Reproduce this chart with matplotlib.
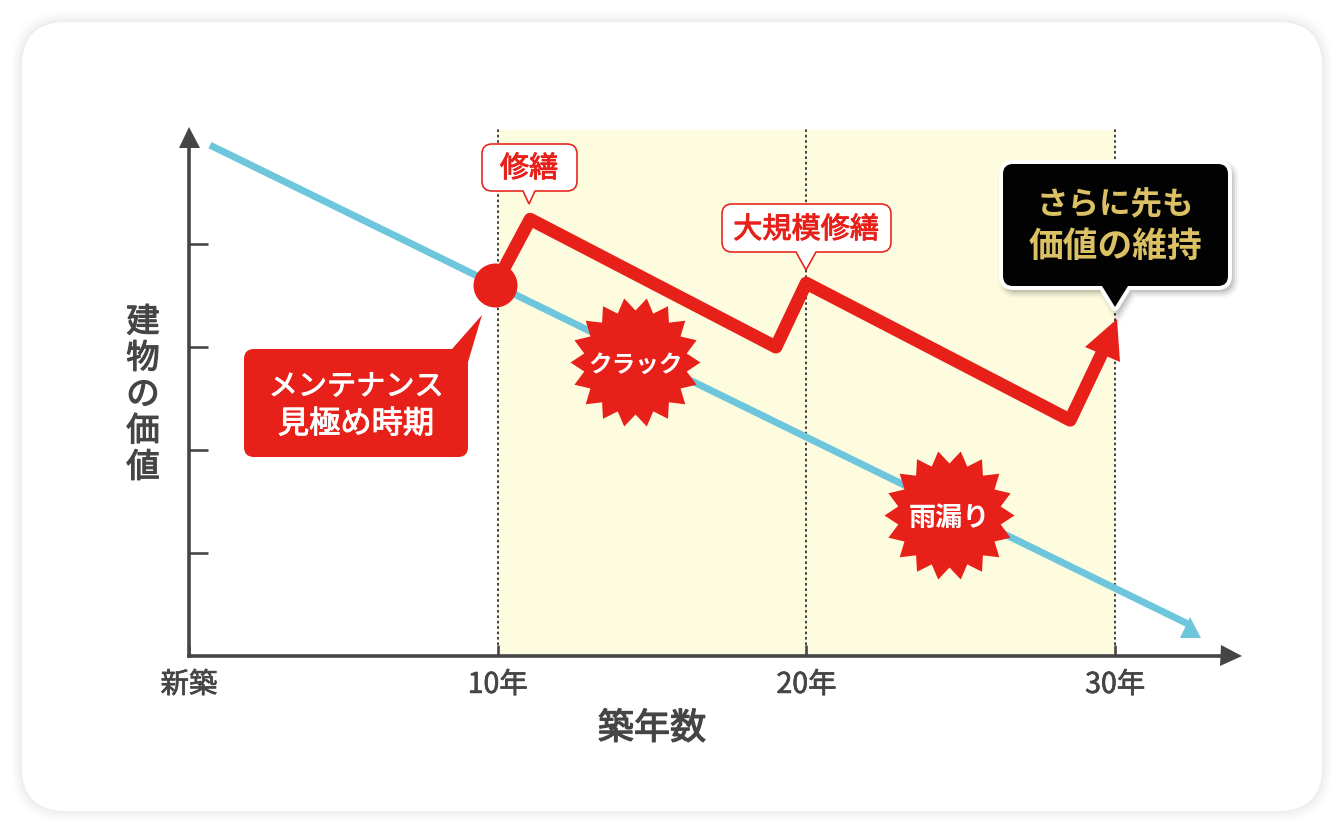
import matplotlib
matplotlib.use("Agg")
import matplotlib.pyplot as plt
import matplotlib.patheffects as pe
from matplotlib.markers import MarkerStyle
from matplotlib.patches import PathPatch
from matplotlib.path import Path
from matplotlib.transforms import Affine2D

plt.rcParams['font.family'] = ['Noto Sans CJK JP', 'DejaVu Sans']

# data (years, relative value)
year_ticks = [0, 10, 20, 30]
year_labels = ['新築', '10年', '20年', '30年']
value_ticks = [1, 2, 3, 4]
band_years = [10, 30]

plain_x = [0.68, 32.43]
plain_y = [4.96, 0.30]

kept_x = [9.91, 11.05, 19.01, 19.99, 28.54, 29.57]
kept_y = [3.60, 4.24, 3.00, 3.62, 2.29, 2.94]

event_x = [14.45, 24.62]
event_y = [2.85, 1.37]
event_labels = ['クラック', '雨漏り']
event_sizes = [17, 19.5]

RED = '#E7201A'
BLUE = '#6EC6DD'
DARK = '#444547'
BAND = '#FEFCDF'
GOLD = '#DBC064'

W, H = 1344, 833
PX = 0.72  # points per pixel at dpi 100

fig = plt.figure(figsize=(W / 100, H / 100), dpi=100, facecolor='white')
px = Affine2D().scale(1, -1).translate(0, H)  # reference pixel coords


def rounded(points, radii):
    # closed path through points, corners rounded by radii
    n = len(points)
    verts, codes = [], []
    for i in range(n):
        x, y = points[i]
        r = radii[i]
        if r == 0:
            verts.append((x, y))
            codes.append(Path.LINETO)
            continue
        xa, ya = points[i - 1]
        xb, yb = points[(i + 1) % n]
        la = ((xa - x) ** 2 + (ya - y) ** 2) ** 0.5
        lb = ((xb - x) ** 2 + (yb - y) ** 2) ** 0.5
        verts += [(x + (xa - x) * r / la, y + (ya - y) * r / la), (x, y),
                  (x + (xb - x) * r / lb, y + (yb - y) * r / lb)]
        codes += [Path.LINETO, Path.CURVE3, Path.CURVE3]
    codes[0] = Path.MOVETO
    verts.append(verts[0])
    codes.append(Path.CLOSEPOLY)
    return Path(verts, codes)


def box_path(x0, y0, x1, y1, r, base0=None, base1=None, tip=None):
    pts = [(x0, y0), (x1, y0), (x1, y1)]
    rad = [r, r, r]
    if tip is not None:
        pts += [(base1, y1), tip, (base0, y1)]
        rad += [0, 0, 0]
    pts.append((x0, y1))
    rad.append(r)
    return rounded(pts, rad)


def thicker(color, amount=0.7):
    # no Medium weight installed, so fatten the regular face a little
    return [pe.withStroke(linewidth=amount, foreground=color)]


def label(x, y, s, size, color, weight='normal'):
    # callout text, y is the glyph centre in reference pixels
    ax.text(x, y + 3, s, transform=px, fontsize=size, fontweight=weight, color=color,
            ha='center', va='center', zorder=9,
            path_effects=thicker(color) if weight == 'normal' else None)


# card with soft shadow
card = box_path(22, 22, 1322, 811, 44)
for i in range(12, 0, -1):
    grey = 1 - 0.075 * (1 - i / 12) ** 1.3
    fig.add_artist(PathPatch(box_path(22 - i, 22 - i, 1322 + i, 811 + i, 44 + i),
                             transform=px, fc=str(grey), ec='none', zorder=-2))
fig.add_artist(PathPatch(card, transform=px, fc='white', ec='none', zorder=-1))

ax = fig.add_axes([189 / W, (H - 656) / H, (1231 - 189) / W, (656 - 127) / H])
ax.patch.set_visible(False)
ax.set_xlim(0, 33.75)
ax.set_ylim(0, 5.136)

ax.axvspan(band_years[0], band_years[1], ymax=(656 - 130) / 529, color=BAND, lw=0, zorder=1)
ax.vlines(year_ticks[1:], 0.11, 5.136, colors=DARK, lw=2 * PX,
          linestyles=(0, (1.3, 1.4)), zorder=2)

# axes
for side in ['top', 'right']:
    ax.spines[side].set_visible(False)
for side in ['left', 'bottom']:
    ax.spines[side].set_linewidth(3.6 * PX)
    ax.spines[side].set_color(DARK)
    ax.spines[side].set_zorder(3)
ax.spines['left'].set_bounds(0, 5.04)
ax.set_xticks(year_ticks)
ax.set_xticklabels(year_labels, fontsize=20.5, color=DARK, path_effects=thicker(DARK, 0.5))
ax.set_yticks(value_ticks)
ax.set_yticklabels([])
ax.tick_params(axis='x', direction='in', length=11 * PX, width=2.6 * PX, color=DARK, pad=10)
ax.tick_params(axis='y', direction='in', length=19 * PX, width=2.6 * PX, color=DARK)
ax.plot(1, 0, marker='>', ms=21 * PX, color=DARK, mew=0, transform=ax.transAxes, clip_on=False, zorder=3)
ax.plot(0, 5.04, marker='^', ms=21 * PX, color=DARK, mew=0, clip_on=False, zorder=3)

ax.set_xlabel('築年数', fontsize=26, color=DARK, path_effects=thicker(DARK, 0.9))
ax.xaxis.set_label_coords((652 - 189) / 1042, -(729 - 656) / 529)
ax.xaxis.label.set_va('center')
ax.set_ylabel('建\n物\nの\n価\n値', fontsize=24, color=DARK, rotation=0, ha='center', va='center',
              linespacing=1.05, path_effects=thicker(DARK, 0.9))
ax.yaxis.set_label_coords(-(189 - 143) / 1042, (656 - 395) / 529)

# lines
ax.plot(plain_x, plain_y, color=BLUE, lw=7 * PX, solid_capstyle='butt', zorder=4)
ax.plot(plain_x[-1], plain_y[-1] - 0.02, marker='^', ms=21 * PX, color=BLUE, mew=0, zorder=4)

ax.plot(kept_x, kept_y, color=RED, lw=13 * PX, solid_joinstyle='round',
        solid_capstyle='butt', zorder=5)
ax.plot(kept_x[0], kept_y[0], marker='o', ms=44 * PX, color=RED, mew=0, zorder=5)
head = MarkerStyle('^', transform=Affine2D().rotate_deg(-22))
ax.plot(kept_x[-1] + 0.26, kept_y[-1] + 0.16, marker=head, ms=38 * PX, color=RED, mew=0, zorder=5)

# starbursts
star = MarkerStyle(Path.unit_regular_star(18, innerCircle=0.8), transform=Affine2D().rotate_deg(10))
ax.plot(event_x, event_y, ls='none', marker=star, ms=130 * PX, color=RED, mew=0, zorder=6)
for x, y, s, size in zip(event_x, event_y, event_labels, event_sizes):
    ax.annotate(s, (x, y), xytext=(0, -2), textcoords='offset points', fontsize=size,
                fontweight='bold', color='white', ha='center', va='center', zorder=7)

# callouts, placed in pixels
ax.add_patch(PathPatch(box_path(482, 144, 577, 191, 10, 523, 535, (529, 204)),
                       transform=px, fc='white', ec=RED, lw=1.6 * PX, zorder=8, clip_on=False))
label(529, 166, '修繕', 21, RED)

ax.add_patch(PathPatch(box_path(722, 204, 891, 252, 10, 796, 816, (806, 270)),
                       transform=px, fc='white', ec=RED, lw=1.6 * PX, zorder=8, clip_on=False))
label(806, 227, '大規模修繕', 21, RED)

note = rounded([(244, 349), (452, 349), (482, 315), (468, 362), (468, 457), (244, 457)],
               [10, 0, 0, 0, 10, 10])
ax.add_patch(PathPatch(note, transform=px, fc=RED, ec='none', zorder=8, clip_on=False))
label(356, 384, 'メンテナンス', 21, 'white')
label(356, 421, '見極め時期', 22.5, 'white')

black = box_path(1003, 164, 1228, 286, 10, 1102, 1128, (1115, 307))
shadow = px + Affine2D().translate(3, -4)
for lw, alpha in [(16, 0.03), (12, 0.05), (8, 0.07), (4, 0.09)]:
    ax.add_patch(PathPatch(black, transform=shadow, fc='none', ec='black', alpha=alpha,
                           lw=lw * PX, zorder=8, clip_on=False))
ax.add_patch(PathPatch(black, transform=px, fc='#020202', ec='white', lw=8 * PX,
                       joinstyle='round', zorder=8, clip_on=False))
ax.add_patch(PathPatch(black, transform=px, fc='#020202', ec='none', zorder=8, clip_on=False))
label(1115, 202, 'さらに先も', 22.7, GOLD, 'bold')
label(1115, 243, '価値の維持', 25, GOLD, 'bold')

fig.savefig('out.png', dpi=100)
